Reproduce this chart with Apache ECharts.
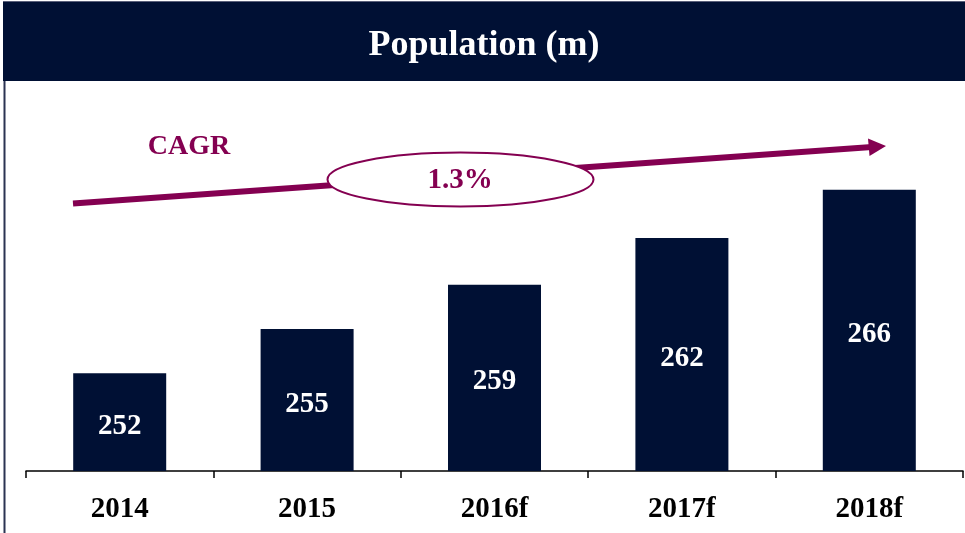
<!DOCTYPE html>
<html>
<head>
<meta charset="utf-8">
<script src="https://cdn.jsdelivr.net/npm/echarts@6/dist/echarts.min.js"></script>
<style>
html,body{margin:0;padding:0;background:#fff;}
#chart{width:965px;height:533px;}
</style>
</head>
<body>
<div id="chart"></div>
<script>
// Data
var categories = ['2014', '2015', '2016f', '2017f', '2018f'];
var population = [252.0, 255.4, 258.8, 262.4, 266.1];
var titleText = 'Population (m)';
var cagrLabel = 'CAGR';
var cagrValue = '1.3%';

var NAVY = '#001034';
var PURPLE = '#840051';
var SERIF = '"Liberation Serif", "DejaVu Serif", "Times New Roman", serif';

var chart = echarts.init(document.getElementById('chart'), null, {renderer: 'canvas'});
chart.setOption({
  backgroundColor: '#ffffff',
  animation: false,
  grid: {left: 26, right: 2, top: 100, bottom: 62, containLabel: false},
  xAxis: {
    type: 'category',
    data: categories,
    axisLine: {show: true, lineStyle: {color: '#000', width: 1.5}},
    axisTick: {show: true, length: 7, lineStyle: {color: '#000', width: 1.5}},
    axisLabel: {
      margin: 24,
      color: '#000',
      fontFamily: SERIF,
      fontWeight: 'bold',
      fontSize: 29
    }
  },
  yAxis: {
    type: 'value',
    min: 244.5,
    max: 273,
    show: false,
    splitLine: {show: false}
  },
  series: [{
    type: 'bar',
    data: population,
    barWidth: 93,
    itemStyle: {color: NAVY},
    label: {
      show: true,
      position: 'inside',
      offset: [0, 4],
      color: '#fff',
      fontFamily: SERIF,
      fontWeight: 'bold',
      fontSize: 29,
      formatter: function (p) { return Math.round(p.value); }
    }
  }],
  graphic: [
    // top banner
    {type: 'rect', left: 3, top: 2, shape: {width: 962, height: 79}, style: {fill: NAVY}, z: 10},
    {type: 'line', shape: {x1: 3, y1: 1.5, x2: 965, y2: 1.5}, style: {stroke: '#5a607a', lineWidth: 1}, z: 10},
    {type: 'line', shape: {x1: 4.5, y1: 81, x2: 4.5, y2: 533}, style: {stroke: '#2b3352', lineWidth: 2}, z: 10},
    {type: 'text', x: 484, y: 46, style: {text: titleText, fill: '#fff', font: 'bold 36px ' + SERIF, textAlign: 'center', textVerticalAlign: 'middle'}, z: 11},
    // CAGR arrow
    {type: 'line', shape: {x1: 73, y1: 203.5, x2: 872, y2: 147}, style: {stroke: PURPLE, lineWidth: 6}, z: 10},
    {type: 'polygon', shape: {points: [[886, 146], [868, 138.5], [869.5, 156]]}, style: {fill: PURPLE}, z: 10},
    {type: 'ellipse', shape: {cx: 460.5, cy: 179.5, rx: 133, ry: 27}, style: {fill: '#fff', stroke: PURPLE, lineWidth: 2}, z: 11},
    {type: 'text', x: 460, y: 181, style: {text: cagrValue, fill: PURPLE, font: 'bold 29px ' + SERIF, textAlign: 'center', textVerticalAlign: 'middle'}, z: 12},
    {type: 'text', x: 189, y: 147, style: {text: cagrLabel, fill: PURPLE, font: 'bold 28px ' + SERIF, textAlign: 'center', textVerticalAlign: 'middle'}, z: 12}
  ]
});
</script>
</body>
</html>
